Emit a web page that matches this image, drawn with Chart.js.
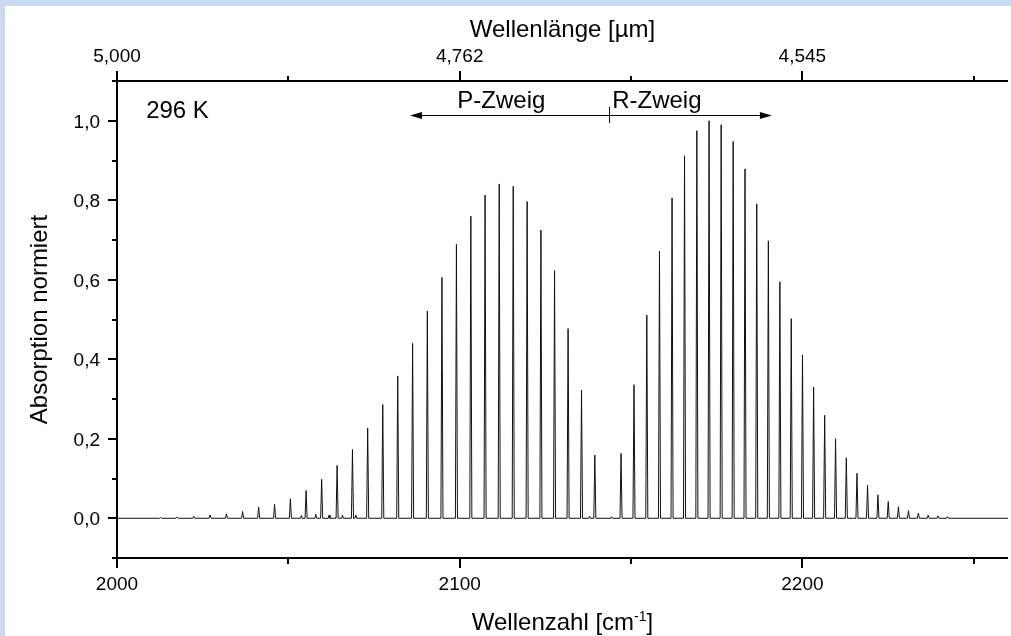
<!DOCTYPE html>
<html lang="de">
<head>
<meta charset="utf-8">
<title>CO Absorptionsspektrum 296 K</title>
<script src="https://cdn.jsdelivr.net/npm/chart.js@4.4.1/dist/chart.umd.min.js"></script>
<style>
  html, body { margin: 0; padding: 0; background: #c9daee; }
  body { width: 1011px; height: 636px; overflow: hidden; position: relative; }
  #panel { position: absolute; left: 5px; top: 6px; width: 1006px; height: 630px; background: #fff; }
  canvas { display: block; }
</style>
</head>
<body>
<div id="panel"><canvas id="spectrum" width="1006" height="630"></canvas></div>
<script>
// -------------------------
// Linien (Wellenzahl in cm^-1, Absorption normiert)
// -------------------------
const P_POS = [2139.43, 2135.55, 2131.63, 2127.68, 2123.70, 2119.68, 2115.62, 2111.53, 2107.41, 2103.25,
               2099.05, 2094.82, 2090.56, 2086.26, 2081.92, 2077.55, 2073.15, 2068.71, 2064.23, 2059.72,
               2055.18, 2050.60, 2045.98, 2041.33, 2036.65, 2031.93, 2027.17, 2022.38, 2017.55, 2012.70];
const P_HEIGHT = [0.159, 0.322, 0.477, 0.623, 0.725, 0.797, 0.835, 0.841, 0.813, 0.760,
                  0.689, 0.606, 0.521, 0.440, 0.358, 0.286, 0.227, 0.173, 0.133, 0.098,
                  0.070, 0.049, 0.035, 0.028, 0.017, 0.011, 0.008, 0.005, 0.003, 0.002];

const R_POS = [2147.08, 2150.86, 2154.60, 2158.30, 2161.97, 2165.61, 2169.21, 2172.77, 2176.30, 2179.80,
               2183.26, 2186.68, 2190.07, 2193.43, 2196.75, 2200.03, 2203.28, 2206.50, 2209.68, 2212.82,
               2215.93, 2219.01, 2222.05, 2225.05, 2228.02, 2230.96, 2233.85, 2236.72, 2239.55, 2242.34];
const R_HEIGHT = [0.163, 0.336, 0.511, 0.672, 0.806, 0.912, 0.975, 1.000, 0.990, 0.948,
                  0.879, 0.791, 0.698, 0.595, 0.502, 0.411, 0.330, 0.259, 0.200, 0.152,
                  0.113, 0.083, 0.059, 0.042, 0.029, 0.019, 0.013, 0.008, 0.006, 0.004];

// schwache Nebenlinien
const WEAK_POS = [2053.8, 2058.0, 2061.9, 2065.8, 2069.7, 2137.9, 2144.3];
const WEAK_HEIGHT = [0.007, 0.010, 0.008, 0.008, 0.008, 0.005, 0.004];

// Achsen
const X_MIN = 2000, X_MAX = 2260;
const Y_MIN = -0.1, Y_MAX = 1.1;
const X_MAJOR = [2000, 2100, 2200];
const X_MINOR = [2050, 2150, 2250];
const X_LABELS = ['2000', '2100', '2200'];
const TOP_LABELS = ['5,000', '4,762', '4,545'];
const Y_MAJOR = [0, 0.2, 0.4, 0.6, 0.8, 1.0];
const Y_MINOR = [-0.1, 0.1, 0.3, 0.5, 0.7, 0.9, 1.1];
const Y_LABELS = ['0,0', '0,2', '0,4', '0,6', '0,8', '1,0'];

// Beschriftung im Diagramm
const TEMP_LABEL = '296 K';
const BRANCH_LABELS = ['P-Zweig', 'R-Zweig'];
const BRANCH_LABEL_X = [2099.3, 2144.5];
const BRANCH_LABEL_Y = 1.031;
const ARROW_FROM = 2085.5, ARROW_TO = 2191.1, ARROW_Y = 1.0145, ARROW_SPLIT = 2143.5;

const FONT = '"Liberation Sans", Arial, sans-serif';

// -------------------------
// Strichspektrum aufbauen
// -------------------------
function stickPoints(pos, height, halfWidth) {
  const pts = [];
  pos.forEach((c, i) => {
    pts.push({ x: c - halfWidth, y: 0 }, { x: c, y: height[i] }, { x: c + halfWidth, y: 0 });
  });
  return pts;
}

const spectrum = [
  { x: X_MIN, y: 0 },
  ...stickPoints(P_POS, P_HEIGHT, 0.3),
  ...stickPoints(R_POS, R_HEIGHT, 0.3),
  ...stickPoints(WEAK_POS, WEAK_HEIGHT, 0.25),
  { x: X_MAX, y: 0 }
].sort((a, b) => a.x - b.x);

// -------------------------
// Achsen, Ticks, Titel, Pfeil
// -------------------------
const axisDecor = {
  id: 'axisDecor',
  afterDraw(chart) {
    const { ctx, chartArea: a } = chart;
    const x = chart.scales.x, x2 = chart.scales.x2, y = chart.scales.y;
    const px = (s, v) => Math.round(s.getPixelForValue(v));

    ctx.save();
    ctx.strokeStyle = '#000';
    ctx.fillStyle = '#000';

    // Rahmen oben, unten, links
    ctx.lineWidth = 2;
    ctx.beginPath();
    ctx.moveTo(a.left - 1, a.top); ctx.lineTo(a.right, a.top);
    ctx.moveTo(a.left - 1, a.bottom); ctx.lineTo(a.right, a.bottom);
    ctx.moveTo(a.left, a.top); ctx.lineTo(a.left, a.bottom);
    ctx.stroke();

    // Tickmarken
    ctx.beginPath();
    X_MAJOR.forEach(v => {
      const p = px(x, v);
      ctx.moveTo(p, a.bottom); ctx.lineTo(p, a.bottom + 10);
    });
    X_MINOR.forEach(v => {
      const p = px(x, v);
      ctx.moveTo(p, a.bottom); ctx.lineTo(p, a.bottom + 6);
    });
    X_MAJOR.forEach(v => {
      const p = px(x2, v);
      ctx.moveTo(p, a.top); ctx.lineTo(p, a.top - 10);
    });
    X_MINOR.forEach(v => {
      const p = px(x2, v);
      ctx.moveTo(p, a.top); ctx.lineTo(p, a.top - 5);
    });
    Y_MAJOR.forEach(v => {
      const p = px(y, v);
      ctx.moveTo(a.left, p); ctx.lineTo(a.left - 9, p);
    });
    Y_MINOR.forEach(v => {
      const p = px(y, v);
      ctx.moveTo(a.left, p); ctx.lineTo(a.left - 5, p);
    });
    ctx.stroke();

    // Tickbeschriftung
    ctx.font = `19px ${FONT}`;
    ctx.textBaseline = 'alphabetic';
    ctx.textAlign = 'center';
    X_MAJOR.forEach((v, i) => ctx.fillText(X_LABELS[i], x.getPixelForValue(v), a.bottom + 32));
    X_MAJOR.forEach((v, i) => ctx.fillText(TOP_LABELS[i], x2.getPixelForValue(v), a.top - 19));
    ctx.textAlign = 'right';
    Y_MAJOR.forEach((v, i) => ctx.fillText(Y_LABELS[i], a.left - 17, y.getPixelForValue(v) + 7));

    // Achsentitel
    const cx = (a.left + a.right) / 2;
    ctx.font = `24px ${FONT}`;
    ctx.textAlign = 'center';
    ctx.fillText('Wellenlänge [µm]', cx, a.top - 44);

    // unten mit hochgestelltem -1
    const t1 = 'Wellenzahl [cm', sup = '-1', t2 = ']';
    ctx.font = `24px ${FONT}`;
    const w1 = ctx.measureText(t1).width, w3 = ctx.measureText(t2).width;
    ctx.font = `14px ${FONT}`;
    const w2 = ctx.measureText(sup).width;
    const tx = cx - (w1 + w2 + w3) / 2;
    const by = a.bottom + 72;
    ctx.textAlign = 'left';
    ctx.font = `24px ${FONT}`;
    ctx.fillText(t1, tx, by);
    ctx.font = `14px ${FONT}`;
    ctx.fillText(sup, tx + w1, by - 9);
    ctx.font = `24px ${FONT}`;
    ctx.fillText(t2, tx + w1 + w2, by);

    // links, gedreht
    ctx.save();
    ctx.translate(42, (a.top + a.bottom) / 2);
    ctx.rotate(-Math.PI / 2);
    ctx.textAlign = 'center';
    ctx.fillText('Absorption normiert', 0, 0);
    ctx.restore();

    // Temperatur
    ctx.textAlign = 'left';
    ctx.fillText(TEMP_LABEL, x.getPixelForValue(2008.5), y.getPixelForValue(1.007));

    // Zweige
    BRANCH_LABELS.forEach((t, i) => {
      ctx.fillText(t, x.getPixelForValue(BRANCH_LABEL_X[i]), y.getPixelForValue(BRANCH_LABEL_Y));
    });

    // Doppelpfeil mit Trennstrich
    const ax1 = x.getPixelForValue(ARROW_FROM), ax2 = x.getPixelForValue(ARROW_TO);
    const ay = Math.round(y.getPixelForValue(ARROW_Y)) + 0.5;
    const head = 12, hw = 3.5;
    ctx.lineWidth = 1;
    ctx.beginPath();
    ctx.moveTo(ax1 + head - 1, ay); ctx.lineTo(ax2 - head + 1, ay);
    const sx = Math.round(x.getPixelForValue(ARROW_SPLIT)) + 0.5;
    ctx.moveTo(sx, y.getPixelForValue(1.035)); ctx.lineTo(sx, y.getPixelForValue(0.994));
    ctx.stroke();
    ctx.beginPath();
    ctx.moveTo(ax1, ay); ctx.lineTo(ax1 + head, ay - hw); ctx.lineTo(ax1 + head, ay + hw); ctx.closePath();
    ctx.moveTo(ax2, ay); ctx.lineTo(ax2 - head, ay - hw); ctx.lineTo(ax2 - head, ay + hw); ctx.closePath();
    ctx.fill();

    ctx.restore();
  }
};

// -------------------------
// Chart
// -------------------------
Chart.defaults.font.family = FONT;

new Chart(document.getElementById('spectrum'), {
  type: 'line',
  data: {
    datasets: [{
      data: spectrum,
      borderColor: '#111',
      borderWidth: 1,
      pointRadius: 0,
      tension: 0,
      fill: false
    }]
  },
  options: {
    responsive: false,
    animation: false,
    devicePixelRatio: 1,
    layout: { padding: { left: 112, top: 75, right: 3, bottom: 78 } },
    plugins: { legend: { display: false }, tooltip: { enabled: false } },
    scales: {
      x: { type: 'linear', min: X_MIN, max: X_MAX, display: false },
      x2: { type: 'linear', position: 'top', min: X_MIN, max: X_MAX, display: false },
      y: { type: 'linear', min: Y_MIN, max: Y_MAX, display: false }
    }
  },
  plugins: [axisDecor]
});
</script>
</body>
</html>
